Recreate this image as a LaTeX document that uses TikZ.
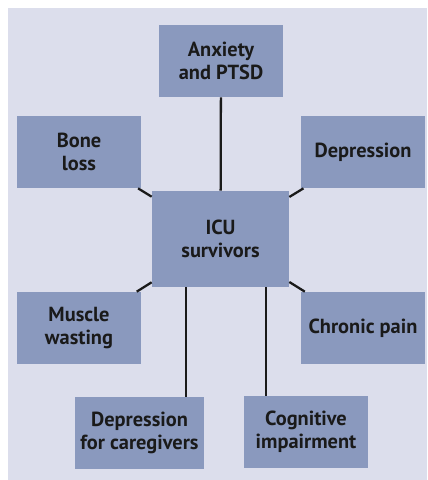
\documentclass[tikz,border=0pt]{standalone}
\usepackage{fontspec}
\setmainfont{PT Sans}
\usetikzlibrary{positioning}
\definecolor{panel}{HTML}{DCDEEC}
\definecolor{boxfill}{HTML}{8A99BE}
\definecolor{ink}{HTML}{1A1A1A}

\tikzset{
  outcome/.style={fill=boxfill, text=ink, font=\bfseries\fontsize{11.6}{12.8}\selectfont,
    align=center, inner sep=0pt, minimum width=2.48cm, minimum height=1.44cm},
  link/.style={draw=ink, line width=1.3pt}
}

\begin{document}
\begin{tikzpicture}[x=0.02cm, y=-0.02cm]
  % --- page and panel ---
  \useasboundingbox (0,0) rectangle (427,480);
  \fill[white] (0,0) rectangle (427,480);
  \fill[panel] (8,8) rectangle (427,480);
  % --- centre ---
  \node[outcome, minimum width=2.74cm, minimum height=1.92cm] (icu) at (220.5,239) {ICU\\survivors};
  % --- outcomes round it ---
  \node[outcome] (anx) at (221,61) {Anxiety\\and PTSD};
  \node[outcome] (bone) at (79,152) {Bone\\loss};
  \node[outcome] (dep) at (363,152) {Depression};
  \node[outcome] (muscle) at (79,328) {Muscle\\wasting};
  \node[outcome] (pain) at (363,328) {Chronic pain};
  \node[outcome, minimum width=2.58cm] (care) at (139.5,433) {Depression\\for caregivers};
  \node[outcome] (cog) at (306,432) {Cognitive\\impairment};
  % --- links ---
  \draw[link] (anx) -- (icu);
  \draw[link] (bone) -- (icu);
  \draw[link] (dep) -- (icu);
  \draw[link] (muscle) -- (icu);
  \draw[link] (pain) -- (icu);
  \draw[link] ([xshift=0.93cm]care.north) coordinate (c1) -- (c1 |- icu.south);
  \draw[link] ([xshift=-0.8cm]cog.north) coordinate (c2) -- (c2 |- icu.south);
\end{tikzpicture}
\end{document}
